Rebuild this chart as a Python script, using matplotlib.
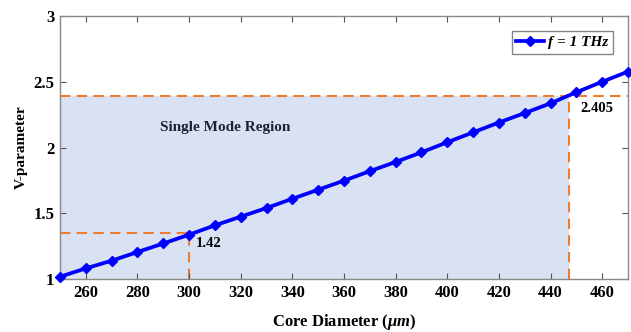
import matplotlib
matplotlib.use("Agg")
import matplotlib.pyplot as plt
import numpy as np

diameter = [250, 260, 270, 280, 290, 300, 310, 320, 330, 340, 350, 360,
            370, 380, 390, 400, 410, 420, 430, 440, 450, 460, 470]
v_param = [1.017, 1.081, 1.139, 1.205, 1.270, 1.337, 1.408, 1.474, 1.540, 1.610,
           1.679, 1.748, 1.820, 1.890, 1.963, 2.040, 2.115, 2.190, 2.262, 2.336,
           2.420, 2.500, 2.577]
cutoff_v = 2.39
cutoff_d = 447.3
ref_d = 300
ref_v = 1.352

plt.rcParams['font.family'] = ['Liberation Serif', 'DejaVu Serif']
plt.rcParams['mathtext.fontset'] = 'custom'
plt.rcParams['mathtext.it'] = 'Liberation Serif:italic:bold'
plt.rcParams['mathtext.rm'] = 'Liberation Serif:bold'

fig = plt.figure(figsize=(6.31, 3.32), dpi=100)
ax = fig.add_axes([60/631, 1-279/332, 568/631, 263/332])

ax.fill_between([250, cutoff_d], 1, cutoff_v, color='#D9E2F3', zorder=0, linewidth=0)
orange = '#ED7D31'
ax.plot([250, 470], [cutoff_v, cutoff_v], '--', color=orange, lw=1.5, dashes=(5, 3), zorder=1)
ax.plot([cutoff_d, cutoff_d], [1, cutoff_v], '--', color=orange, lw=1.5, dashes=(5, 3), zorder=1)
ax.plot([250, ref_d], [ref_v, ref_v], '--', color=orange, lw=1.5, dashes=(5, 3), zorder=1)
ax.plot([ref_d, ref_d], [1, ref_v], '--', color=orange, lw=1.5, dashes=(5, 3), zorder=1)

ax.plot(diameter, v_param, color='#0000FF', lw=2.7, marker='D', markersize=5,
        label='f = 1 THz', zorder=3, clip_on=False)

ax.text(314, 2.15, 'Single Mode Region', fontsize=11, fontweight='bold',
        color='#1a2233', ha='center', va='center')
ax.text(302.5, 1.27, '1.42', fontsize=10.5, fontweight='bold', ha='left', va='center')
ax.text(451.5, 2.30, '2.405', fontsize=10.5, fontweight='bold', ha='left', va='center')

ax.set_xlim(250, 470)
ax.set_ylim(1, 3)
ax.set_xticks(np.arange(260, 461, 20))
ax.set_yticks([1, 1.5, 2, 2.5, 3])
ax.set_yticklabels(['1', '1.5', '2', '2.5', '3'])
ax.tick_params(direction='in', top=True, right=True, length=4, color='#555555',
               labelsize=12, pad=4)
for lab in ax.get_xticklabels() + ax.get_yticklabels():
    lab.set_fontweight('bold')
for s in ax.spines.values():
    s.set_color('#888888')
    s.set_linewidth(1.0)

ax.set_xlabel(r'Core Diameter ($\mu m$)', fontsize=12, fontweight='bold', labelpad=8)
ax.set_ylabel('V-parameter', fontsize=11, fontweight='bold', labelpad=4)

leg = ax.legend(loc='upper right', bbox_to_anchor=((613-60)/568, (279-31)/263),
                prop={'weight': 'bold', 'style': 'italic', 'size': 11},
                frameon=True, fancybox=False, handlelength=1.8, handletextpad=0.3,
                borderpad=0.3, borderaxespad=0)
leg.get_frame().set_edgecolor('#666666')
leg.get_frame().set_linewidth(1.0)

fig.savefig('out.png', dpi=100)
